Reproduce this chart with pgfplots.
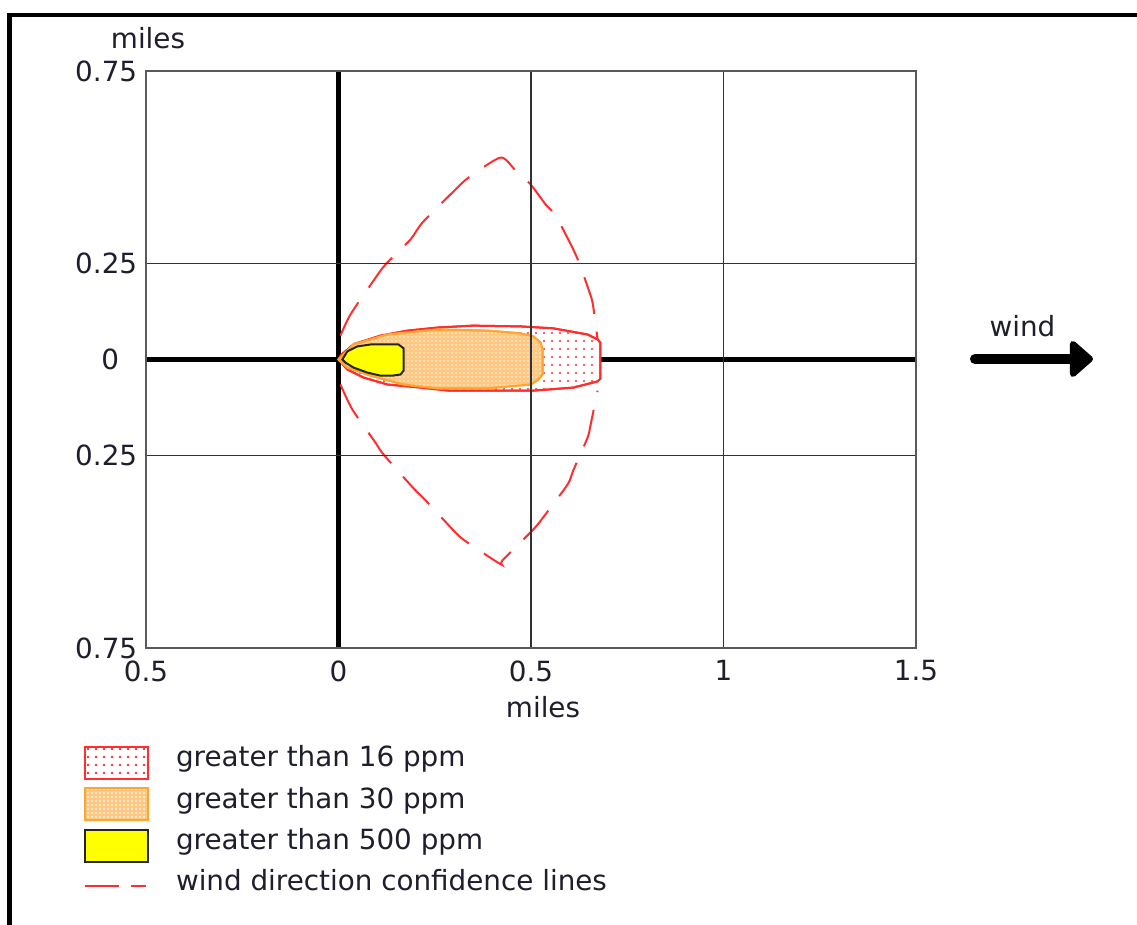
\documentclass[border=0pt]{standalone}
\usepackage{fontspec}
\setmainfont{DejaVu Sans}
\usepackage{pgfplots}
\pgfplotsset{compat=1.18}
\usetikzlibrary{patterns,arrows.meta}

\definecolor{zred}{RGB}{255,45,45}
\definecolor{zorange}{RGB}{255,165,50}
\definecolor{zorfill}{RGB}{255,200,130}
\definecolor{zyellow}{RGB}{255,255,0}
\definecolor{txt}{RGB}{30,30,45}
\definecolor{gridc}{RGB}{50,50,50}

\pgfdeclarepatternformonly{reddots}{\pgfqpoint{-1pt}{-1pt}}{\pgfqpoint{1pt}{1pt}}{\pgfqpoint{4pt}{4pt}}{\pgfpathcircle{\pgfqpoint{0pt}{0pt}}{0.55pt}\pgfusepath{fill}}
\pgfdeclarepatternformonly{finedots}{\pgfqpoint{-1pt}{-1pt}}{\pgfqpoint{1pt}{1pt}}{\pgfqpoint{2pt}{2pt}}{\pgfpathcircle{\pgfqpoint{0pt}{0pt}}{0.42pt}\pgfusepath{fill}}

\newcommand{\fnt}{\fontsize{13.9}{16}\selectfont}

\begin{document}
\begin{tikzpicture}
\begin{axis}[
  at={(73pt,-324pt)}, anchor=south west,
  scale only axis, width=385pt, height=288.5pt,
  xmin=-0.5, xmax=1.5, ymin=-0.75, ymax=0.75,
  xtick={-0.5,0.5,1,1.5}, xticklabels={0.5,0.5,1,1.5},
  ytick={-0.75,-0.25,0.25,0.75}, yticklabels={0.75,0.25,0.25,0.75},
  extra x ticks={0}, extra x tick labels={0},
  extra y ticks={0}, extra y tick labels={0},
  extra tick style={grid=none, major tick length=0pt},
  extra y tick style={yticklabel style={xshift=-9pt}},
  major tick length=0pt,
  grid=major, major grid style={line width=0.8pt, color=gridc},
  axis line style={line width=1pt, color=black!65},
  axis on top, clip=false,
  tick label style={font=\fnt, text=txt},
  xticklabel style={yshift=-2.7pt},
  yticklabel style={xshift=-0.9pt},
  legend style={at={(-0.0805,-0.1698)}, anchor=north west, draw=none, fill=none,
    inner sep=0pt, outer sep=0pt, row sep=3.75pt, column sep=13.5pt,
    font=\fnt, text=txt, nodes={inner sep=0pt, text height=0.76em, text depth=0.4em}, cells={anchor=west}},
]
% zero reference lines
\addplot[forget plot, black, line width=2.4pt] coordinates {(-0.5,0) (1.5,0)};
\addplot[forget plot, black, line width=2.4pt] coordinates {(0,-0.75) (0,0.75)};

% greater than 16 ppm
\addplot[draw=zred, line width=1pt, fill=white, postaction={pattern=reddots, pattern color=zred},
  legend image code/.code={\draw[zred, line width=1pt, fill=white, postaction={pattern=reddots, pattern color=zred}] (0pt,-8pt) rectangle (31.5pt,8pt);}]
coordinates {
(0,0) (0.008,0.013) (0.04,0.040) (0.109,0.062) (0.179,0.075) (0.257,0.083) (0.348,0.088)
(0.473,0.086) (0.558,0.081) (0.647,0.065) (0.673,0.052) (0.680,0.044)
(0.680,-0.050) (0.673,-0.057) (0.610,-0.073) (0.506,-0.081) (0.287,-0.081)
(0.213,-0.073) (0.127,-0.065) (0.065,-0.047) (0.023,-0.026) (0,0)
} -- cycle;
\addlegendentry{greater than 16 ppm}

% greater than 30 ppm
\addplot[draw=zorange, line width=1pt, fill=zorfill, postaction={pattern=finedots, pattern color=white!80!zorfill},
  legend image code/.code={\draw[zorange, line width=1pt, fill=zorfill, postaction={pattern=finedots, pattern color=white!80!zorfill}] (0pt,-8pt) rectangle (31.5pt,8pt);}]
coordinates {
(0,0) (0.039,0.039) (0.127,0.065) (0.257,0.078) (0.387,0.075) (0.473,0.068)
(0.506,0.060) (0.525,0.044) (0.530,0.026) (0.530,-0.039) (0.519,-0.052)
(0.499,-0.065) (0.387,-0.075) (0.257,-0.075) (0.169,-0.065) (0.083,-0.042)
(0.023,-0.021) (0,0)
} -- cycle;
\addlegendentry{greater than 30 ppm}

% greater than 500 ppm
\addplot[draw=black!85, line width=1pt, fill=zyellow,
  legend image code/.code={\draw[black!85, line width=1pt, fill=zyellow] (0pt,-8pt) rectangle (31.5pt,8pt);}]
coordinates {
(0.010,0) (0.023,0.021) (0.049,0.034) (0.083,0.039) (0.127,0.039) (0.156,0.039)
(0.169,0.029) (0.169,0.010) (0.169,-0.029) (0.161,-0.039) (0.140,-0.042)
(0.109,-0.042) (0.075,-0.034) (0.039,-0.021) (0.018,-0.008) (0.010,0)
} -- cycle;
\addlegendentry{greater than 500 ppm}

% wind direction confidence lines
\addplot[forget plot, zred, line width=1pt, dash pattern=on 19pt off 9pt, smooth, tension=0.4]
coordinates {
(0.005,0.062) (0.031,0.117) (0.091,0.205) (0.122,0.247) (0.187,0.312) (0.218,0.356)
(0.304,0.442) (0.338,0.473) (0.421,0.525) (0.460,0.491) (0.499,0.455) (0.538,0.403)
(0.564,0.374) (0.610,0.286) (0.623,0.257) (0.655,0.166) (0.662,0.135) (0.673,0.052)
};
\addplot[forget plot, zred, line width=1pt, dash pattern=on 19pt off 9pt, smooth, tension=0.4]
coordinates {
(0.005,-0.065) (0.036,-0.130) (0.096,-0.216) (0.117,-0.247) (0.195,-0.335) (0.226,-0.366)
(0.309,-0.455) (0.343,-0.481) (0.421,-0.532) (0.426,-0.522) (0.506,-0.442) (0.532,-0.410)
(0.595,-0.325) (0.610,-0.288) (0.647,-0.203) (0.655,-0.169) (0.673,-0.081)
};
\addlegendimage{legend image code/.code={\path[draw=none, fill=none] (0pt,-8pt) rectangle (31.5pt,8pt); \draw[zred, line width=1pt, dash pattern=on 17pt off 6pt] (0pt,0pt) -- (30.5pt,0pt);}}
\addlegendentry{wind direction confidence lines}

% labels
\node[font=\fnt, text=txt] at (rel axis cs:0.5156,-0.1023) {miles};
\node[font=\fnt, text=txt] at (rel axis cs:0.0026,1.0563) {miles};
\node[font=\fnt, text=txt] at (rel axis cs:1.1383,0.5571) {wind};
\draw[black, line width=5pt, line cap=round, -{Triangle[length=12.5pt,width=21pt,round]}]
  (rel axis cs:1.0766,0.5009) -- (rel axis cs:1.2299,0.5009);
\end{axis}
\draw[line width=2.1pt, black, line join=miter] (4.75pt,-470pt) -- (4.75pt,-7.5pt) -- (575pt,-7.5pt);
\pgfresetboundingbox
\useasboundingbox (0pt,0pt) rectangle (568.5pt,-462.5pt);
\end{tikzpicture}
\end{document}
